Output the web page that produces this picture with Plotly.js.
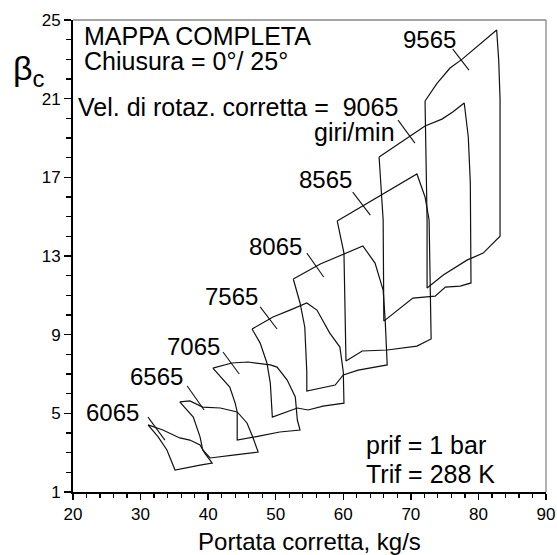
<!DOCTYPE html>
<html>
<head>
<meta charset="utf-8">
<script src="https://cdn.plot.ly/plotly-3.0.1.min.js"></script>
<style>html,body{margin:0;padding:0;background:#fff}#chart{width:557px;height:555px}</style>
</head>
<body>
<div id="chart"></div>
<script>
// Speed lines (closed loops: surge -> top -> choke side -> bottom -> back up)
var speeds = ["6065","6565","7065","7565","8065","8565","9065","9565"];

var x6065 = [31.1,33.3,35.8,37.3,38.8,39.5,40.6,38.8,35.1,33.9,32.6,31.1];
var y6065 = [4.41,4.15,3.75,3.64,3.39,2.98,2.47,2.37,2.12,3.14,3.80,4.41];

var x6565 = [35.8,37.3,39.2,41.8,44.3,45.75,46.6,47.4,43.7,40.3,39.2,38.8,37.8,35.8];
var y6565 = [5.58,5.63,5.32,5.27,5.07,4.51,3.80,3.03,2.88,2.73,3.14,3.80,4.81,5.58];

var x7065 = [40.7,43.5,45.9,49.2,50.2,51.7,52.9,53.2,53.6,50.6,47.7,44.3,44.3,44.0,43.2,40.7];
var y7065 = [7.30,7.56,7.61,7.46,7.35,6.69,5.83,4.66,4.15,4.05,3.85,3.64,5.07,5.52,6.34,7.30];

var x7565 = [46.5,49.6,52.1,54.6,56.1,58.0,59.5,60.0,60.1,57.0,54.8,53.2,49.5,49.2,48.7,47.7,46.5];
var y7565 = [9.29,9.90,10.25,10.61,10.25,9.08,8.37,7.10,5.52,5.37,5.17,5.27,4.81,6.54,7.56,8.57,9.29];

var x8065 = [52.6,56.6,62.9,64.7,65.9,66.2,66.5,62.2,60.0,58.8,54.6,54.6,54.3,53.6,52.6];
var y8065 = [11.83,12.59,13.51,12.64,11.27,9.74,7.46,7.20,6.95,6.44,6.13,7.10,9.39,10.61,11.83];

var x8565 = [59.1,62.8,66.9,70.9,72.1,72.7,72.8,73.0,70.9,66.5,62.8,60.4,60.1,59.1];
var y8565 = [14.78,15.54,16.35,17.17,16.00,14.83,12.79,8.78,8.42,8.22,8.17,7.66,13.15,14.78];

var x9065 = [65.3,72.1,74.6,76.2,77.9,78.5,78.8,78.9,77.3,75.1,73.6,70.3,66.0,65.9,65.3];
var y9065 = [18.03,19.61,19.96,20.32,20.78,19.05,16.71,11.63,11.47,11.42,10.96,10.86,9.69,14.83,18.03];

var x9565 = [72.1,73.9,75.8,77.6,82.7,83.0,83.2,83.2,80.7,78.3,74.8,72.4,72.4,72.1];
var y9565 = [20.88,21.79,22.56,23.01,24.49,22.96,20.98,14.01,13.15,12.79,12.03,11.37,14.83,20.88];

var curvesX = [x6065,x6565,x7065,x7565,x8065,x8565,x9065,x9565];
var curvesY = [y6065,y6565,y7065,y7565,y8065,y8565,y9065,y9565];

// label positions (centre) and leader lines
var labelX = [25.9,32.3,37.8,43.5,49.9,57.4,null,72.8];
var labelY = [5.04,6.85,8.42,10.96,13.46,16.91,null,24.03];
var leadX0 = [31.1,36.9,42.2,47.7,54.6,61.4,68.1,76.2];
var leadY0 = [4.81,6.39,8.12,10.41,13.15,16.25,19.91,23.52];
var leadX1 = [33.6,39.4,44.6,50.2,57.1,64.0,70.6,78.6];
var leadY1 = [3.64,5.17,7.00,9.29,11.93,15.08,18.74,22.45];

var xTicks = [20,30,40,50,60,70,80,90];
var yTicks = [1,5,9,13,17,21,25];

var FONT = "Liberation Sans, Arial, sans-serif";
var traces = [];
for (var i = 0; i < speeds.length; i++) {
  traces.push({x: curvesX[i], y: curvesY[i], mode: "lines", type: "scatter",
    line: {color: "#111", width: 1.2}, hoverinfo: "skip", showlegend: false});
  traces.push({x: [leadX0[i], leadX1[i]], y: [leadY0[i], leadY1[i]], mode: "lines", type: "scatter",
    line: {color: "#111", width: 1.1}, hoverinfo: "skip", showlegend: false});
}

var ann = [];
for (var j = 0; j < speeds.length; j++) {
  if (labelX[j] === null) continue;
  ann.push({x: labelX[j], y: labelY[j], xref: "x", yref: "y", text: speeds[j], showarrow: false,
    xanchor: "center", yanchor: "middle", font: {family: FONT, size: 24, color: "#000"}});
}
function txt(x, y, t, xa, size) {
  ann.push({x: x, y: y, xref: "x", yref: "y", text: t, showarrow: false, xanchor: xa, yanchor: "middle",
    font: {family: FONT, size: size || 25, color: "#000"}});
}
txt(21.34, 24.18, "MAPPA COMPLETA", "left");
txt(21.34, 22.90, "Chiusura = 0°/ 25°", "left");
txt(20.45, 20.57, "Vel. di rotaz. corretta =  9065", "left", 25);
txt(68.0, 19.30, "giri/min", "right");
txt(63.1, 3.37, "prif = 1 bar", "left");
txt(63.1, 1.90, "Trif = 288 K", "left");
ann.push({x: -0.092, y: 0.893, xref: "paper", yref: "paper", text: "β<sub>c</sub>", showarrow: false,
  xanchor: "center", yanchor: "middle", font: {family: FONT, size: 34, color: "#000"}});

var layout = {
  width: 557, height: 555,
  margin: {l: 73, r: 11, t: 20, b: 63},
  paper_bgcolor: "#fff", plot_bgcolor: "#fff",
  font: {family: FONT, size: 17, color: "#000"},
  xaxis: {range: [20, 90], tickvals: xTicks, ticktext: xTicks.map(String), ticks: "outside", ticklen: 6, tickwidth: 1.3,
    tickcolor: "#000", showline: true, linecolor: "#000", linewidth: 2, showgrid: false, zeroline: false,
    minor: {dtick: 2, tick0: 20, ticks: "outside", ticklen: 4, tickwidth: 1.2, tickcolor: "#000", showgrid: false},
    tickfont: {family: FONT, size: 17},
    title: {text: "Portata corretta, kg/s", font: {family: FONT, size: 24}, standoff: 18}},
  yaxis: {range: [1, 25], tickvals: yTicks, ticktext: yTicks.map(String), ticks: "outside", ticklen: 7, tickwidth: 1.3,
    tickcolor: "#000", showline: true, linecolor: "#000", linewidth: 2, showgrid: false, zeroline: false,
    minor: {dtick: 1, tick0: 1, ticks: "outside", ticklen: 5, tickwidth: 1.2, tickcolor: "#000", showgrid: false},
    tickfont: {family: FONT, size: 17}},
  shapes: [
    {type: "line", xref: "paper", yref: "paper", x0: 0, x1: 1, y0: 1, y1: 1, line: {color: "#888", width: 1.3}},
    {type: "line", xref: "paper", yref: "paper", x0: 1, x1: 1, y0: 0, y1: 1, line: {color: "#888", width: 1.3}}
  ],
  annotations: ann
};
Plotly.newPlot("chart", traces, layout, {displayModeBar: false, staticPlot: true});
</script>
</body>
</html>
